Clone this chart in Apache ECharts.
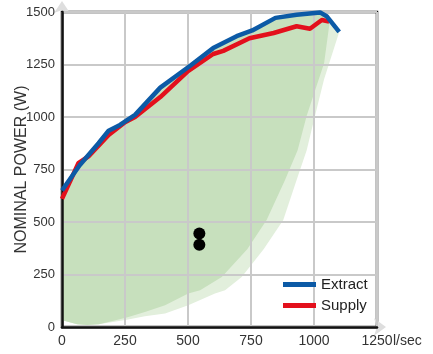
<!DOCTYPE html>
<html>
<head>
<meta charset="utf-8">
<script src="https://cdn.jsdelivr.net/npm/echarts@6/dist/echarts.min.js"></script>
<style>
html,body{margin:0;padding:0;background:#fff;}
#chart{width:433px;height:354px;}
</style>
</head>
<body>
<div id="chart"></div>
<script>
// ---- data ----
var xTicks = [0, 250, 500, 750, 1000, 1250];
var yTicks = [0, 250, 500, 750, 1000, 1250, 1500];
var seriesNames = ['Extract', 'Supply'];
var extractPoints = [[0,650],[70,770],[145,875],[185,935],[230,962],[290,1010],[390,1140],[510,1245],[600,1328],[693,1385],[755,1412],[847,1472],[931,1487],[1024,1498],[1050,1480],[1100,1405]];
var supplyPoints = [[0,610],[65,780],[105,812],[185,914],[250,975],[290,1000],[390,1095],[500,1218],[600,1300],[640,1315],[744,1375],[840,1400],[931,1432],[984,1420],[1031,1462],[1060,1455]];
var operatingPoints = [[545,445],[545,392]];
// outer (light) working range edge, from top-right going down and back to the left wall
var lightEdge = [[1100,1405],[1040,1180],[1004,1006],[971,842],[931,700],[878,509],[800,370],[713,238],[647,175],[607,159],[501,103],[409,64],[329,51],[257,35],[146,13],[100,10],[60,13],[12,29],[0,32]];
// inner (dark) working range edge
var darkTop = [[0,650],[70,770],[145,875],[185,935],[230,962],[290,1010],[390,1140],[510,1245],[600,1328],[693,1385],[755,1412],[847,1472],[931,1487],[1024,1498],[1063,1460]];
var darkEdge = [[1040,1256],[971,1006],[935,842],[885,700],[812,509],[735,370],[634,238],[548,175],[501,159],[409,103],[329,72],[257,45],[200,28],[146,13],[100,10],[60,13],[12,29],[0,32]];

var lightPoly = extractPoints.concat(lightEdge);
var darkPoly = darkTop.concat(darkEdge);

function polygonRenderer(points, color) {
  return function (params, api) {
    if (params.dataIndex !== 0) return null;
    var pts = points.map(function (p) { return api.coord(p); });
    return { type: 'polygon', shape: { points: pts }, style: { fill: color } };
  };
}
function plain(v) { return String(v); }

var chart = echarts.init(document.getElementById('chart'), null, {renderer: 'canvas'});
var gridLine = { color: '#c9c9c9', width: 2 };
var option = {
  animation: false,
  backgroundColor: '#ffffff',
  grid: { left: 62, right: 56, top: 12, bottom: 27, show: true, borderColor: '#111', borderWidth: 2.5, backgroundColor: 'transparent', outerBoundsMode: 'none', containLabel: false },
  legend: {
    data: seriesNames.map(function (n) { return { name: n, icon: 'rect' }; }),
    orient: 'vertical', left: 283, top: 277, padding: 0, itemGap: 6,
    itemWidth: 33, itemHeight: 5,
    textStyle: { fontFamily: 'Liberation Sans', fontSize: 15, color: '#222', padding: [0,0,0,0] }
  },
  xAxis: [{
    type: 'value', min: xTicks[0], max: xTicks[xTicks.length - 1], interval: 250, z: 3,
    name: 'l/sec', nameLocation: 'end', nameGap: 16, nameMoveOverlap: false,
    nameTextStyle: { fontFamily: 'Liberation Sans', fontSize: 14, color: '#333', verticalAlign: 'top', padding: [7, 0, 0, 0] },
    axisLine: { show: true, lineStyle: { color: '#111', width: 2.5 } },
    axisTick: { show: false },
    axisLabel: { margin: 7, fontFamily: 'Liberation Sans', fontSize: 14, color: '#333', showMaxLabel: true, showMinLabel: true, formatter: plain },
    splitLine: { show: true, lineStyle: gridLine }
  }, {
    type: 'value', min: xTicks[0], max: xTicks[xTicks.length - 1], position: 'bottom', z: 2,
    axisLine: { show: true, symbol: ['none', 'arrow'], symbolSize: [13, 12], symbolOffset: [0, 9], lineStyle: { color: '#dedede', width: 1 } },
    axisTick: { show: false }, axisLabel: { show: false }, splitLine: { show: false }
  }],
  yAxis: [{
    type: 'value', min: yTicks[0], max: yTicks[yTicks.length - 1], interval: 250, z: 3,
    name: 'NOMINAL POWER (W)', nameLocation: 'middle', nameGap: 32, nameRotate: 90, nameMoveOverlap: false,
    nameTextStyle: { fontFamily: 'Liberation Sans', fontSize: 16, color: '#333' },
    axisLine: { show: true, lineStyle: { color: '#111', width: 2.5 } },
    axisTick: { show: false },
    axisLabel: { margin: 7, fontFamily: "'Liberation Sans Narrow', 'Liberation Sans'", fontSize: 13, color: '#333', formatter: plain },
    splitLine: { show: true, lineStyle: gridLine }
  }, {
    type: 'value', min: yTicks[0], max: yTicks[yTicks.length - 1], position: 'left', z: 2,
    axisLine: { show: true, symbol: ['none', 'arrow'], symbolSize: [12, 12], symbolOffset: [0, 11], lineStyle: { color: '#dedede', width: 1 } },
    axisTick: { show: false }, axisLabel: { show: false }, splitLine: { show: false }
  }],
  series: [
    { type: 'custom', name: 'rangeLight', silent: true, z: 1, clip: true, renderItem: polygonRenderer(lightPoly, '#e2efdc'), data: [lightPoly[0]] },
    { type: 'custom', name: 'rangeDark', silent: true, z: 1, clip: true, renderItem: polygonRenderer(darkPoly, '#c7e0bd'), data: [darkPoly[0]] },
    { type: 'line', name: 'Supply', data: supplyPoints, showSymbol: false, z: 5, lineStyle: { color: '#e3101c', width: 4.5, join: 'round' }, itemStyle: { color: '#e3101c' } },
    { type: 'line', name: 'Extract', data: extractPoints, showSymbol: false, z: 6, lineStyle: { color: '#0c5aa6', width: 4.5, join: 'round' }, itemStyle: { color: '#0c5aa6' } },
    { type: 'scatter', name: 'points', data: operatingPoints, symbolSize: 12, z: 7, itemStyle: { color: '#000', opacity: 1 } }
  ]
};
chart.setOption(option);
</script>
</body>
</html>
